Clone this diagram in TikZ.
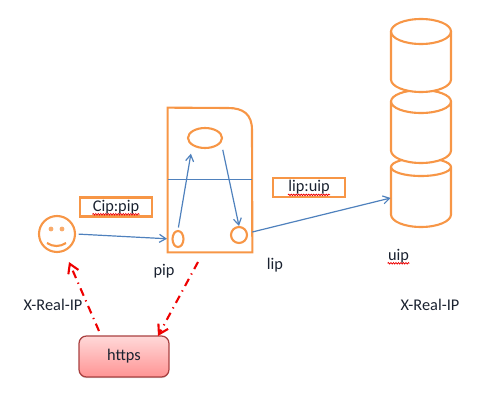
\documentclass[tikz,border=0pt]{standalone}
\usepackage{fontspec}
\setmainfont{Carlito}
\definecolor{peach}{HTML}{F79646}
\definecolor{steel}{HTML}{4F81BD}
\definecolor{ink}{HTML}{1A2230}
\definecolor{alert}{HTML}{EE0000}
\usetikzlibrary{arrows.meta,positioning,shapes.geometric,shadows,decorations.pathmorphing}
\tikzset{
  shell/.style={draw=peach,line width=0.42mm,fill=white,inner sep=0pt},
  port/.style={shell,ellipse},
  tag/.style={draw=peach,line width=0.42mm,minimum width=14.4mm,minimum height=3.8mm,inner sep=0pt},
  lbl/.style={font=\fontsize{9.3pt}{11pt}\selectfont,text=ink,inner sep=0pt},
  arr/.style={-{Straight Barb[length=1.3mm,width=1.6mm]},steel,line width=0.24mm},
  redarr/.style={-{Straight Barb[length=1.8mm,width=2.2mm]},alert,line width=0.42mm,dash pattern=on 1.6mm off 1mm on 0.25mm off 1mm},
  squig/.style={alert,line width=0.15mm,decorate,decoration={snake,amplitude=0.15mm,segment length=0.5mm}}
}
\begin{document}
\begin{tikzpicture}[x=0.02cm,y=-0.02cm]
    \useasboundingbox (0,0) rectangle (491,402);
    \foreach \n/\t/\b/\r in {cylc/158/227/9,cylb/90/163/11.5,cyla/19/92/12.5}{
      \node[minimum width=12mm,minimum height={(\b-\t)*0.2mm},inner sep=0pt] (\n) at (421,{(\t+\b)/2}) {};
      \draw[shell] (391,\t+\r) arc (180:360:30 and \r) -- (451,\b-12.5) arc (0:180:30 and 12.5) -- cycle;
      \draw[peach,line width=0.42mm] (391,\t+\r) arc (180:0:30 and \r);
    }
    \node[minimum width=16.8mm,minimum height=28.8mm,inner sep=0pt] (server) at (210,180) {};
    \draw[peach,line width=0.42mm] (server.south east) -- (server.south west) -- (server.north west) -- (228,108)
      .. controls (243,108) and (252,114) .. (252,130) -- cycle;
    \draw[steel,line width=0.2mm] (server.west) -- (server.east);
    \node[port,minimum width=6.8mm,minimum height=4mm] (proxy) at (205,138) {};
    \node[port,minimum width=2.2mm,minimum height=3.2mm] (pipdot) at (178,239) {};
    \node[port,minimum width=3.2mm,minimum height=3.2mm] (lipdot) at (239,235) {};
    \node[shell,circle,minimum size=7.2mm] (face) at (57,234) {};
    \fill[peach!80] (51,229) circle (2.4) (62,229) circle (2.4);
    \draw[peach,line width=0.42mm] (47,243) .. controls (53,247) and (60,247) .. (66,243);
    \node[tag] (ciptag) at (116,207) {};
    \node[tag] (liptag) at (309,187.5) {};
    \node[lbl] (ciptext) at (ciptag) {Cip:pip};
    \node[lbl] (liptext) at (liptag) {lip:uip};
    \node[lbl] (uiptext) at (398.5,256) {uip};
    \draw[squig] (ciptext.south west) -- (ciptext.south east);
    \draw[squig] (liptext.south west) -- (liptext.south east);
    \draw[squig] (uiptext.south west) -- (uiptext.south east);
    \foreach \x/\y/\n/\t in {164/271/piplbl/pip,275/265/liplbl/lip,53/305/realleft/X-Real-IP,430/305/realright/X-Real-IP}{
      \node[lbl] (\n) at (\x,\y) {\t};
    }
    \node[draw=red!55!black!75,line width=0.25mm,rounded corners=1.5mm,top color=red!15,bottom color=red!42,
      drop shadow={shadow xshift=0mm,shadow yshift=-0.25mm,opacity=0.35},
      minimum width=18mm,minimum height=8.2mm,inner sep=0pt,lbl] (https) at (124,356.5) {https};
    \coordinate (lipout) at ([yshift=-10.4mm]server.east);
    \coordinate (cylin) at ([yshift=-1.1mm]cylc.west);
    \coordinate (proxyout) at ([xshift=1mm,yshift=-0.8mm]proxy.south east);
    \coordinate (redfroma) at (99,331);
    \coordinate (redtipa) at (69,262);
    \coordinate (redfromb) at (198,262);
    \coordinate (redtipb) at (158,336);
    \draw[arr,shorten <=0.5mm,shorten >=0.9mm] (face.east) -- (pipdot.west);
    \draw[arr,shorten <=0.5mm,shorten >=1.6mm] (pipdot.north) -- (proxy.south west);
    \draw[arr] (proxyout) -- (lipdot.north);
    \draw[arr] (lipout) -- (cylin);
    \draw[redarr] (redfroma) -- (redtipa);
    \draw[redarr] (redfromb) -- (redtipb);
  \end{tikzpicture}
\end{document}
